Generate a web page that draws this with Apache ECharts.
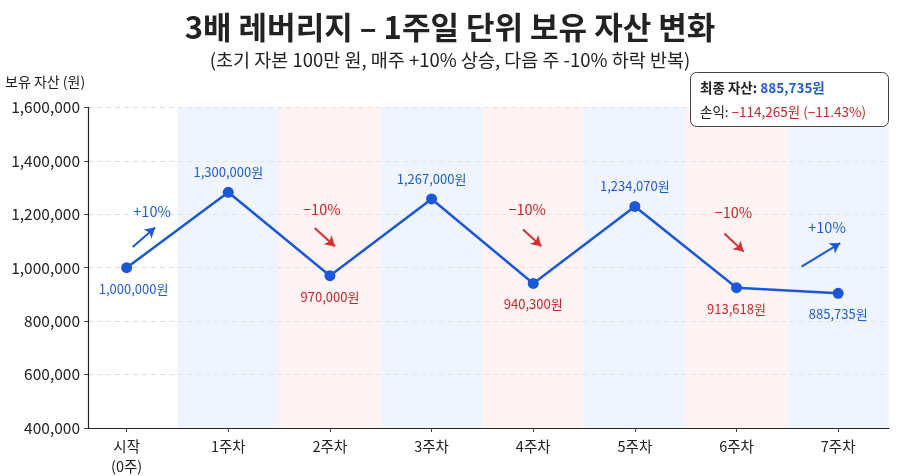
<!DOCTYPE html>
<html><head><meta charset="utf-8">
<script src="https://cdn.jsdelivr.net/npm/echarts@6/dist/echarts.min.js"></script>
<style>html,body{margin:0;padding:0;background:#fff}#c{width:900px;height:476px}</style>
</head><body><div id="c"></div>
<script>
// ---- data ----
const categories = ['시작\n(0주)', '1주차', '2주차', '3주차', '4주차', '5주차', '6주차', '7주차'];
const assetValues = [1000000, 1282000, 970000, 1257000, 941000, 1229000, 925000, 904000];
const valueLabels = ['1,000,000원', '1,300,000원', '970,000원', '1,267,000원', '940,300원', '1,234,070원', '913,618원', '885,735원'];
const marketChange = [0, 10, -10, 10, -10, 10, -10, 10];
const yTicks = [400000, 600000, 800000, 1000000, 1200000, 1400000, 1600000];
const finalAsset = '885,735원';
const profitLoss = '−114,265원 (−11.43%)';
// annotation arrows (data coordinates): [text, sign, textX, textY, fromX, fromY, toX, toY]
const annotations = [
  ['+10%', 1, 0.25, 1209000, 0.06, 1077000, 0.28, 1150000],
  ['−10%', -1, 1.92, 1217000, 1.85, 1148000, 2.05, 1079000],
  ['−10%', -1, 3.94, 1217000, 3.90, 1143000, 4.08, 1080000],
  ['−10%', -1, 5.97, 1205000, 5.88, 1128000, 6.07, 1060000],
  ['+10%', 1, 6.89, 1150000, 6.64, 1004000, 7.02, 1092000]
];

const BLUE = '#1b58d8', BLUE_T = '#1f5fcc', RED = '#d03030', RED_T = '#c62828';
const FONT = '"Noto Sans CJK KR", "Noto Sans", sans-serif';

const lineData = assetValues.map((v, i) => {
  const prev = i > 0 ? assetValues[i - 1] : -Infinity;
  const next = i < assetValues.length - 1 ? assetValues[i + 1] : -Infinity;
  const peak = v > prev && v > next;
  return {
    value: [i, v],
    label: {
      show: true,
      position: peak ? 'top' : 'bottom',
      distance: peak ? 8 : 9,
      offset: i === 0 ? [7, 0] : [0, 0],
      formatter: valueLabels[i],
      color: marketChange[i] < 0 ? RED_T : BLUE_T,
      fontSize: 13, fontFamily: FONT
    }
  };
});

const bands = [];
for (let i = 1; i < categories.length; i++) {
  bands.push([
    { xAxis: i - 0.5, itemStyle: { color: i % 2 ? 'rgba(225,235,255,0.55)' : 'rgba(255,228,228,0.45)' } },
    { xAxis: i + 0.5 }
  ]);
}

const arrowLines = annotations.map(a => [
  { coord: [a[4], a[5]], lineStyle: { color: a[1] > 0 ? BLUE : RED, width: 2, type: 'solid' } },
  { coord: [a[6], a[7]] }
]);
const arrowTexts = annotations.map(a => ({
  coord: [a[2], a[3]],
  label: { show: true, formatter: a[0], color: a[1] > 0 ? BLUE_T : RED_T, fontSize: 14.5, fontFamily: FONT, position: 'inside' }
}));

const chart = echarts.init(document.getElementById('c'));
chart.setOption({
  animation: false,
  backgroundColor: '#fff',
  textStyle: { fontFamily: FONT },
  title: {
    text: '3배 레버리지 – 1주일 단위 보유 자산 변화',
    subtext: '(초기 자본 100만 원, 매주 +10% 상승, 다음 주 -10% 하락 반복)',
    left: 'center', top: 7, itemGap: 8,
    textStyle: { fontSize: 31, fontWeight: 'bold', color: '#222', fontFamily: FONT },
    subtextStyle: { fontSize: 18.5, color: '#222', fontFamily: FONT }
  },
  grid: { left: 88, right: 11, top: 107.3, bottom: 43.5, containLabel: false },
  xAxis: {
    type: 'value', min: -0.38, max: 7.5,
    axisLine: { show: true, onZero: false, lineStyle: { color: '#222', width: 1.2 } },
    axisTick: { show: true, customValues: categories.map((c, i) => i), length: 4, lineStyle: { color: '#444' } },
    axisLabel: { customValues: categories.map((c, i) => i), formatter: v => categories[Math.round(v)], color: '#222', fontSize: 14.5, margin: 8, lineHeight: 20, fontFamily: FONT },
    splitLine: { show: false }
  },
  yAxis: {
    type: 'value', min: yTicks[0], max: yTicks[yTicks.length - 1], interval: 200000,
    axisLine: { show: true, onZero: false, lineStyle: { color: '#222', width: 1.2 } },
    axisTick: { show: true, length: 4, lineStyle: { color: '#444' } },
    axisLabel: { formatter: v => v.toLocaleString('en-US'), color: '#222', fontSize: 15.5, margin: 8, fontFamily: FONT },
    splitLine: { show: true, lineStyle: { color: '#dcdcdc', type: [5, 4], width: 1 } }
  },
  graphic: [
    { type: 'text', left: 5, top: 75, style: { text: '보유 자산 (원)', fontSize: 14, fill: '#222', fontFamily: FONT } },
    { type: 'rect', left: 690, top: 72, shape: { width: 198, height: 54, r: 6 }, style: { fill: '#fff', stroke: '#444', lineWidth: 1 }, z: 10 },
    { type: 'text', left: 700, top: 81, z: 11, style: { text: '{a|최종 자산: }{b|' + finalAsset + '}', rich: { a: { fontSize: 13.5, fontWeight: 'bold', fill: '#222', fontFamily: FONT }, b: { fontSize: 13.5, fontWeight: 'bold', fill: BLUE_T, fontFamily: FONT } } } },
    { type: 'text', left: 700, top: 105, z: 11, style: { text: '{a|손익: }{b|' + profitLoss + '}', rich: { a: { fontSize: 13.5, fill: '#222', fontFamily: FONT }, b: { fontSize: 13.5, fill: RED_T, fontFamily: FONT } } } }
  ],
  series: [
    {
      type: 'line', data: lineData, z: 5,
      lineStyle: { color: BLUE, width: 2.5 },
      itemStyle: { color: BLUE },
      symbol: 'circle', symbolSize: 11,
      markArea: { silent: true, data: bands, z: 1 }
    },
    {
      type: 'line', data: [], z: 6,
      markLine: { silent: true, symbol: ['none', 'arrow'], symbolSize: [9, 10], label: { show: false }, data: arrowLines },
      markPoint: { silent: true, symbol: 'circle', symbolSize: 1, itemStyle: { color: 'rgba(0,0,0,0)' }, data: arrowTexts }
    }
  ]
});
</script></body></html>
